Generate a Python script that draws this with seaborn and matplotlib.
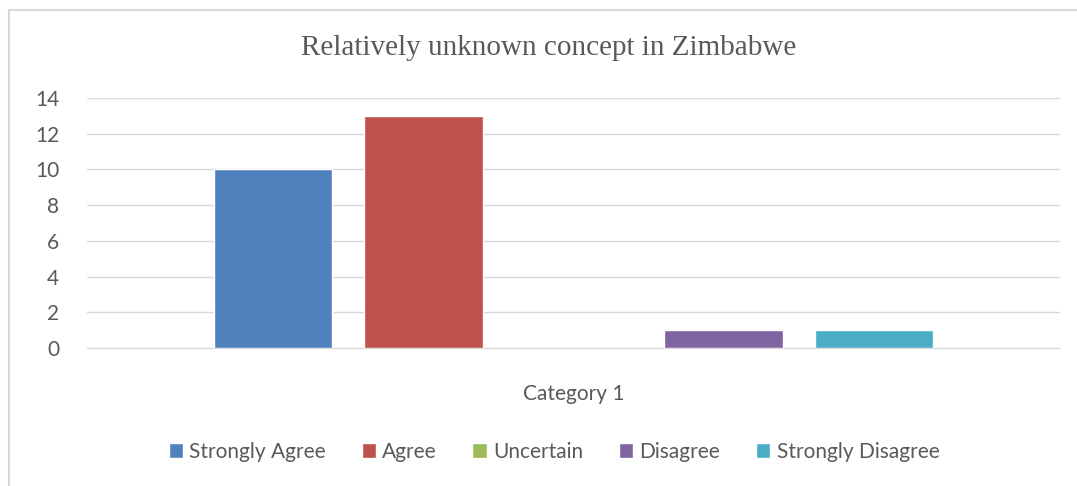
import numpy as np
import pandas as pd
import matplotlib.pyplot as plt
import seaborn as sns
from matplotlib.patches import Rectangle

# Chart data.
categories = ["Category 1"]
responses = ["Strongly Agree", "Agree", "Uncertain", "Disagree", "Strongly Disagree"]
counts = [10, 13, 0, 1, 1]
palette = ["#4F81BD", "#C0504D", "#9BBB59", "#8064A2", "#4BACC6"]
yticks = [0, 2, 4, 6, 8, 10, 12, 14]

df = pd.DataFrame({"category": categories * len(responses), "response": responses, "count": counts})

sns.set_style("white")
plt.rcParams['font.family'] = ['Lato', 'DejaVu Sans']
text_col = "#595959"

fig = plt.figure(figsize=(10.77, 4.86), dpi=100)
ax = fig.add_axes([87 / 1077, 1 - 348 / 486, (1060 - 87) / 1077, 250 / 486])

sns.barplot(data=df, x="category", y="count", hue="response", palette=palette,
            width=0.771, gap=0.213, ax=ax, legend=True, saturation=1)

ax.set_ylim(0, 14)
ax.set_xlim(-0.5, 0.5)
ax.set_yticks(yticks)
ax.yaxis.grid(True, color="#D9D9D9", linewidth=1)
ax.set_axisbelow(True)
for s in ["top", "right", "left"]:
    ax.spines[s].set_visible(False)
ax.spines["bottom"].set_color("#D9D9D9")
ax.tick_params(axis="both", length=0, labelsize=15, colors=text_col)
ax.tick_params(axis="y", pad=20)
ax.tick_params(axis="x", pad=26)
ax.set_xlabel("")
ax.set_ylabel("")

leg = ax.legend(loc="center", bbox_to_anchor=(554 / 1077, 1 - 452 / 486), bbox_transform=fig.transFigure,
                ncol=5, frameon=False, fontsize=15, handlelength=0.7, handleheight=0.7,
                handletextpad=0.3, columnspacing=1.7)
for t in leg.get_texts():
    t.set_color(text_col)

fig.text(549 / 1077, 1 - 48 / 486, "Relatively unknown concept in Zimbabwe", ha="center", va="center",
         fontsize=21, color=text_col, family=["Liberation Serif", "DejaVu Serif"])

# Outer chart border (only left/top visible in the crop).
fig.patches.append(Rectangle((9 / 1077, -0.1), 1.2, 1 - 10 / 486 + 0.1, transform=fig.transFigure,
                             fill=False, edgecolor="#D9D9D9", linewidth=1.5))

fig.savefig("out.png", dpi=100)
